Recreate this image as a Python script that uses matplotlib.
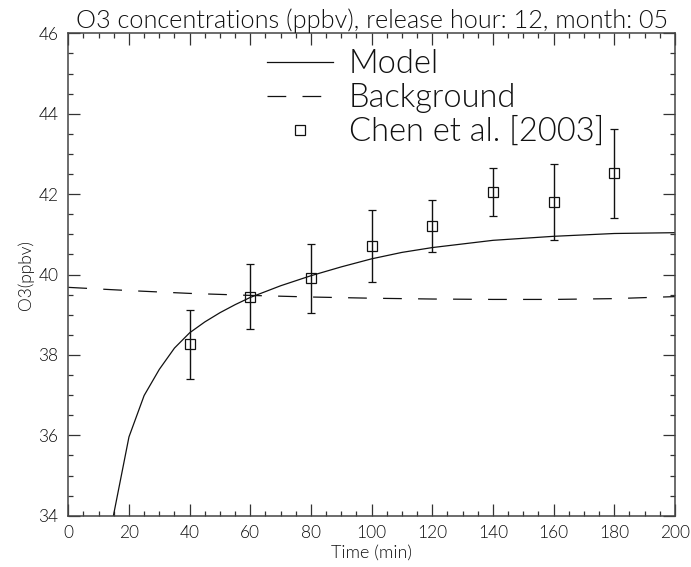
import matplotlib
matplotlib.use("Agg")
import matplotlib.pyplot as plt
from matplotlib.lines import Line2D
from matplotlib.ticker import MultipleLocator

# ---- data ----
model_t = [10, 15, 20, 25, 30, 35, 40, 45, 50, 55, 60, 70, 80, 90, 100, 110, 120, 140, 160, 180, 200]
model_o3 = [31.9, 34.05, 35.96, 36.99, 37.64, 38.17, 38.55, 38.82, 39.05, 39.25, 39.43, 39.72, 39.97, 40.19, 40.39, 40.55, 40.67, 40.85, 40.95, 41.02, 41.04]

bg_t = [0, 20, 40, 60, 80, 100, 120, 140, 160, 180, 200]
bg_o3 = [39.68, 39.6, 39.53, 39.48, 39.44, 39.41, 39.39, 39.38, 39.38, 39.40, 39.45]

obs_t = [40, 60, 80, 100, 120, 140, 160, 180]
obs_o3 = [38.27, 39.45, 39.91, 40.72, 41.21, 42.05, 41.80, 42.52]
obs_hi = [39.11, 40.25, 40.76, 41.61, 41.85, 42.65, 42.76, 43.62]
obs_lo = [37.41, 38.64, 39.05, 39.81, 40.55, 41.45, 40.85, 41.41]

title = "O3 concentrations (ppbv), release hour: 12, month: 05"
xlabel = "Time (min)"
ylabel = "O3(ppbv)"
legend_labels = ["Model", "Background", "Chen et al. [2003]"]

plt.rcParams["font.family"] = ["Lato", "DejaVu Sans"]
plt.rcParams["font.weight"] = 300

# ---- figure ----
W, H = 691, 567
fig = plt.figure(figsize=(W / 100, H / 100), dpi=100)
ax = fig.add_axes([68.3 / W, 1 - 515.7 / H, (675 - 68.3) / W, (515.7 - 33.3) / H])

ink = "#111111"
txt = "#111111"
lw = 0.9
ax.plot(model_t, model_o3, color=ink, lw=lw, clip_on=True)
ax.plot(bg_t, bg_o3, color=ink, lw=lw, dashes=(15, 13))
yerr = [[o - l for o, l in zip(obs_o3, obs_lo)], [h - o for o, h in zip(obs_o3, obs_hi)]]
ax.errorbar(obs_t, obs_o3, yerr=yerr, fmt="s", ms=6.5, mfc="none", mec=ink, mew=0.9,
            ecolor=ink, elinewidth=1.0, capsize=3, capthick=1.0)

ax.set_xlim(0, 200)
ax.set_ylim(34, 46)
ax.xaxis.set_major_locator(MultipleLocator(20))
ax.xaxis.set_minor_locator(MultipleLocator(5))
ax.yaxis.set_major_locator(MultipleLocator(2))
ax.yaxis.set_minor_locator(MultipleLocator(0.5))
ax.tick_params(which="both", direction="in", top=True, right=True, colors="#333333",
               labelcolor=txt, labelsize=12.5, width=0.9)
ax.tick_params(which="major", length=8.5, pad=7)
ax.tick_params(which="minor", length=3.8)
for lab in ax.get_xticklabels() + ax.get_yticklabels():
    lab.set_fontweight(300)
for s in ax.spines.values():
    s.set_color("#444444")
    s.set_linewidth(1.1)

ax.set_title(title, fontsize=18.2, color=txt, pad=2, fontweight=300)
ax.set_xlabel(xlabel, fontsize=13, color=txt, labelpad=2, fontweight=300)
ax.set_ylabel(ylabel, fontsize=12.5, color=txt, labelpad=3, fontweight=300)

handles = [
    Line2D([], [], color=ink, lw=lw),
    Line2D([], [], color=ink, lw=lw, dashes=(15, 13)),
    Line2D([], [], ls="none", marker="s", ms=6.5, mfc="none", mec=ink, mew=0.9),
]
leg = ax.legend(handles, legend_labels, loc="upper left", bbox_to_anchor=(0.296, 1.008),
                frameon=False, prop={"size": 23.5, "weight": 300}, handlelength=2.0,
                handletextpad=0.5, labelspacing=0.12, borderaxespad=0.2)
for t in leg.get_texts():
    t.set_color(txt)

fig.savefig("out.png", dpi=100)
